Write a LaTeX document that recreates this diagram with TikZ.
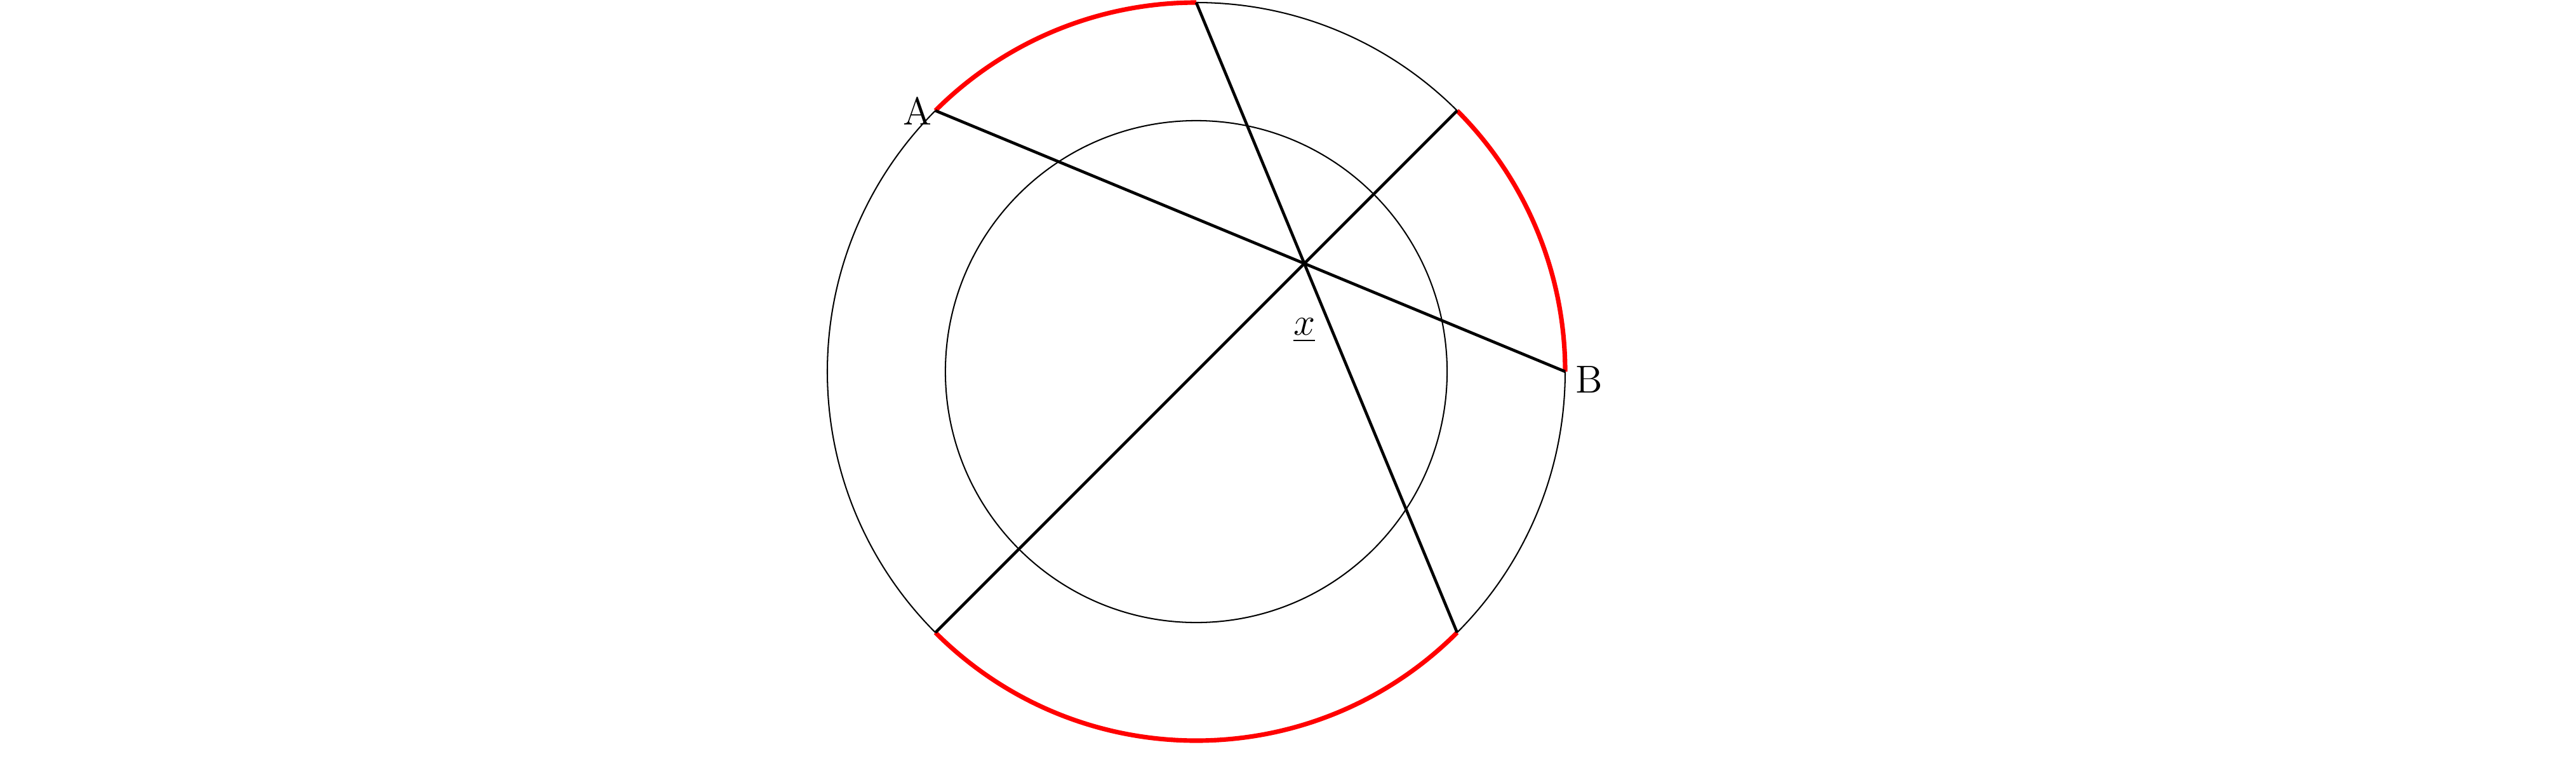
\documentclass[tikz,border=0pt]{standalone}
\usepackage{amsmath}
\usepackage{tikz}
\usetikzlibrary{calc,positioning}

\begin{document}
\begin{tikzpicture}[scale=4, font=\large]
            % Page size
            \useasboundingbox (-3.2427,-1.105) rectangle (3.7401,1.0069);
            
            % Centre and points on the outer circle
            \coordinate (O) at (0,0);
            \coordinate (A) at (135:1);
            \coordinate (B) at (0:1);
            \coordinate (T) at (90:1);
            \coordinate (D) at (315:1);
            \coordinate (E) at (225:1);
            \coordinate (F) at (45:1);
            
            % Common point of the three chords
            \coordinate (X) at (0.2929,0.2929);
            
            % Outer and inner circles
            \draw[line width=0.4pt] (O) circle (1);
            \draw[line width=0.4pt] (O) circle (0.68);
            
            % Red arcs on the outer circle
            \draw[line width=1.4pt, red] (A) arc (135:90:1);
            \draw[line width=1.4pt, red] (B) arc (0:45:1);
            \draw[line width=1.4pt, red] (E) arc (225:315:1);
            
            % Chords through X
            \draw[line width=0.9pt] (A) -- (B);
            \draw[line width=0.9pt] (T) -- (D);
            \draw[line width=0.9pt] (E) -- (F);
            
            % Labels
            \node[left, inner sep=1pt] (lA) at (A) {A};
            \node[right, inner sep=3pt] (lB) at ([yshift=-0.22mm]B) {B};
            \node[below=5.5mm of X, inner sep=1pt] (lX) {$\underline{x}$};
        \end{tikzpicture}
\end{document}
